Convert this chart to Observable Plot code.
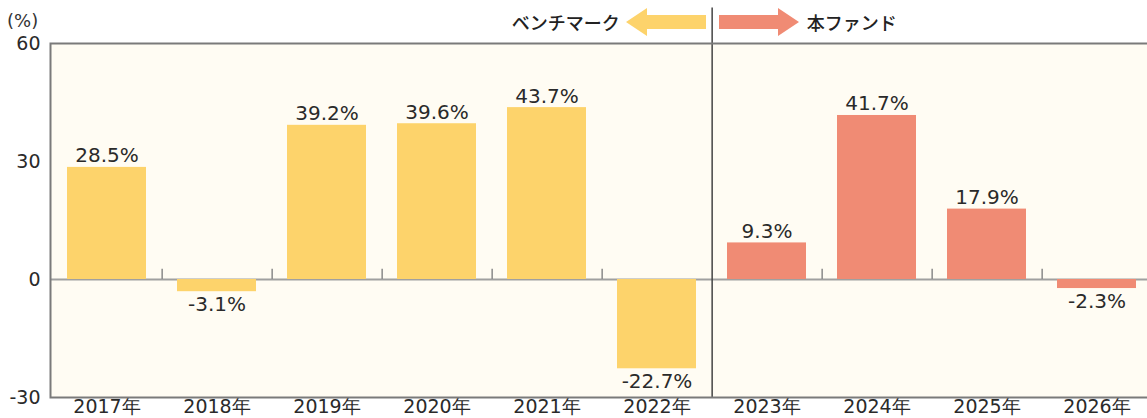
<!DOCTYPE html>
<html>
<head>
<meta charset="utf-8">
<script src="https://cdn.jsdelivr.net/npm/d3@7"></script>
<script src="https://cdn.jsdelivr.net/npm/@observablehq/plot@0.6"></script>
<style>
  body { margin: 0; background: #ffffff; }
  #wrap { position: relative; width: 1147px; height: 418px; overflow: hidden; }
  #legend { position: absolute; left: 0; top: 0; width: 1147px; height: 43px; font-family: "Noto Sans CJK JP", sans-serif; color: #222; }
  .lg { position: absolute; top: 8px; height: 28px; line-height: 28px; font-size: 18px; font-weight: 500; white-space: nowrap; }
  #unit { position: absolute; left: 7px; top: 10px; font-family: "DejaVu Sans", sans-serif; font-size: 18px; color: #333; }
</style>
</head>
<body>
<div id="wrap">
  <div id="chart"></div>
  <div id="legend"></div>
  <div id="unit">(%)</div>
</div>
<script>
const years = ["2017","2018","2019","2020","2021","2022","2023","2024","2025","2026"];
const benchmarkValues = [28.5, -3.1, 39.2, 39.6, 43.7, -22.7];
const fundValues = [9.3, 41.7, 17.9, -2.3];
const groups = ["ベンチマーク", "本ファンド"];
const colors = ["#fdd36b", "#f08b74"];
const yTicks = [-30, 0, 30, 60];

const data = years.map((year, i) => ({
  year,
  value: i < benchmarkValues.length ? benchmarkValues[i] : fundValues[i - benchmarkValues.length],
  group: i < benchmarkValues.length ? groups[0] : groups[1]
}));

const width = 1147, height = 418;
const marginLeft = 50, marginRight = -6;
const step = (width - marginLeft - marginRight) / years.length;
const lastBench = years[benchmarkValues.length - 1];

const numFont = "DejaVu Sans, sans-serif";

const chart = Plot.plot({
  width, height,
  marginLeft, marginRight,
  marginTop: 43, marginBottom: 21,
  x: { domain: years, paddingInner: 0.284, paddingOuter: 0.142, axis: null, label: null },
  y: { domain: [-30, 60], axis: null, label: null },
  color: { domain: groups, range: colors },
  style: { fontFamily: numFont, background: "transparent", color: "#2a2a2a" },
  marks: [
    Plot.frame({ fill: "#fffcf3", stroke: null }),
    Plot.ruleY([0], { stroke: "#a0a0a0", strokeWidth: 2 }),
    Plot.barY(data, { x: "year", y: "value", fill: "group" }),
    Plot.ruleX(years.slice(0, -1).filter(y => y !== lastBench), { y1: 0, y2: 2.6, dx: step / 2, stroke: "#8a8a8a", strokeWidth: 1.5 }),
    Plot.ruleX([lastBench], { y1: -30, y2: 69, dx: step / 2, stroke: "#444", strokeWidth: 1.5 }),
    Plot.text(data.filter(d => d.value >= 0), { x: "year", y: "value", text: d => d.value.toFixed(1) + "%", lineAnchor: "bottom", dy: -5, fontSize: 20, fill: "#2a2a2a" }),
    Plot.text(data.filter(d => d.value < 0), { x: "year", y: "value", text: d => d.value.toFixed(1) + "%", lineAnchor: "top", dy: 5, fontSize: 20, fill: "#2a2a2a" }),
    Plot.axisY({ ticks: yTicks, tickSize: 0, tickPadding: 10, fontSize: 19, fill: "#2a2a2a", label: null, tickFormat: d => String(d) }),
    Plot.axisX({ tickSize: 0, tickPadding: 2, tickFormat: d => d + "年", fontSize: 19, fill: "#2a2a2a", label: null }),
    Plot.frame({ stroke: "#7a7a7a", strokeWidth: 2 })
  ]
});
document.getElementById("chart").appendChild(chart);

// legend
const legend = document.getElementById("legend");
const divX = marginLeft + step * benchmarkValues.length;
legend.innerHTML = `
  <div class="lg" style="right:${width - (divX - 92)}px;">${groups[0]}</div>
  <svg style="position:absolute;left:${divX - 86}px;top:8px" width="81" height="29">
    <polygon points="0,14 21,0 21,7 80,7 80,21 21,21 21,28" fill="${colors[0]}"/>
  </svg>
  <svg style="position:absolute;left:${divX + 7}px;top:8px" width="81" height="29">
    <polygon points="0,7 59,7 59,0 80,14 59,28 59,21 0,21" fill="${colors[1]}"/>
  </svg>
  <div class="lg" style="left:${divX + 95}px;">${groups[1]}</div>
`;
</script>
</body>
</html>
